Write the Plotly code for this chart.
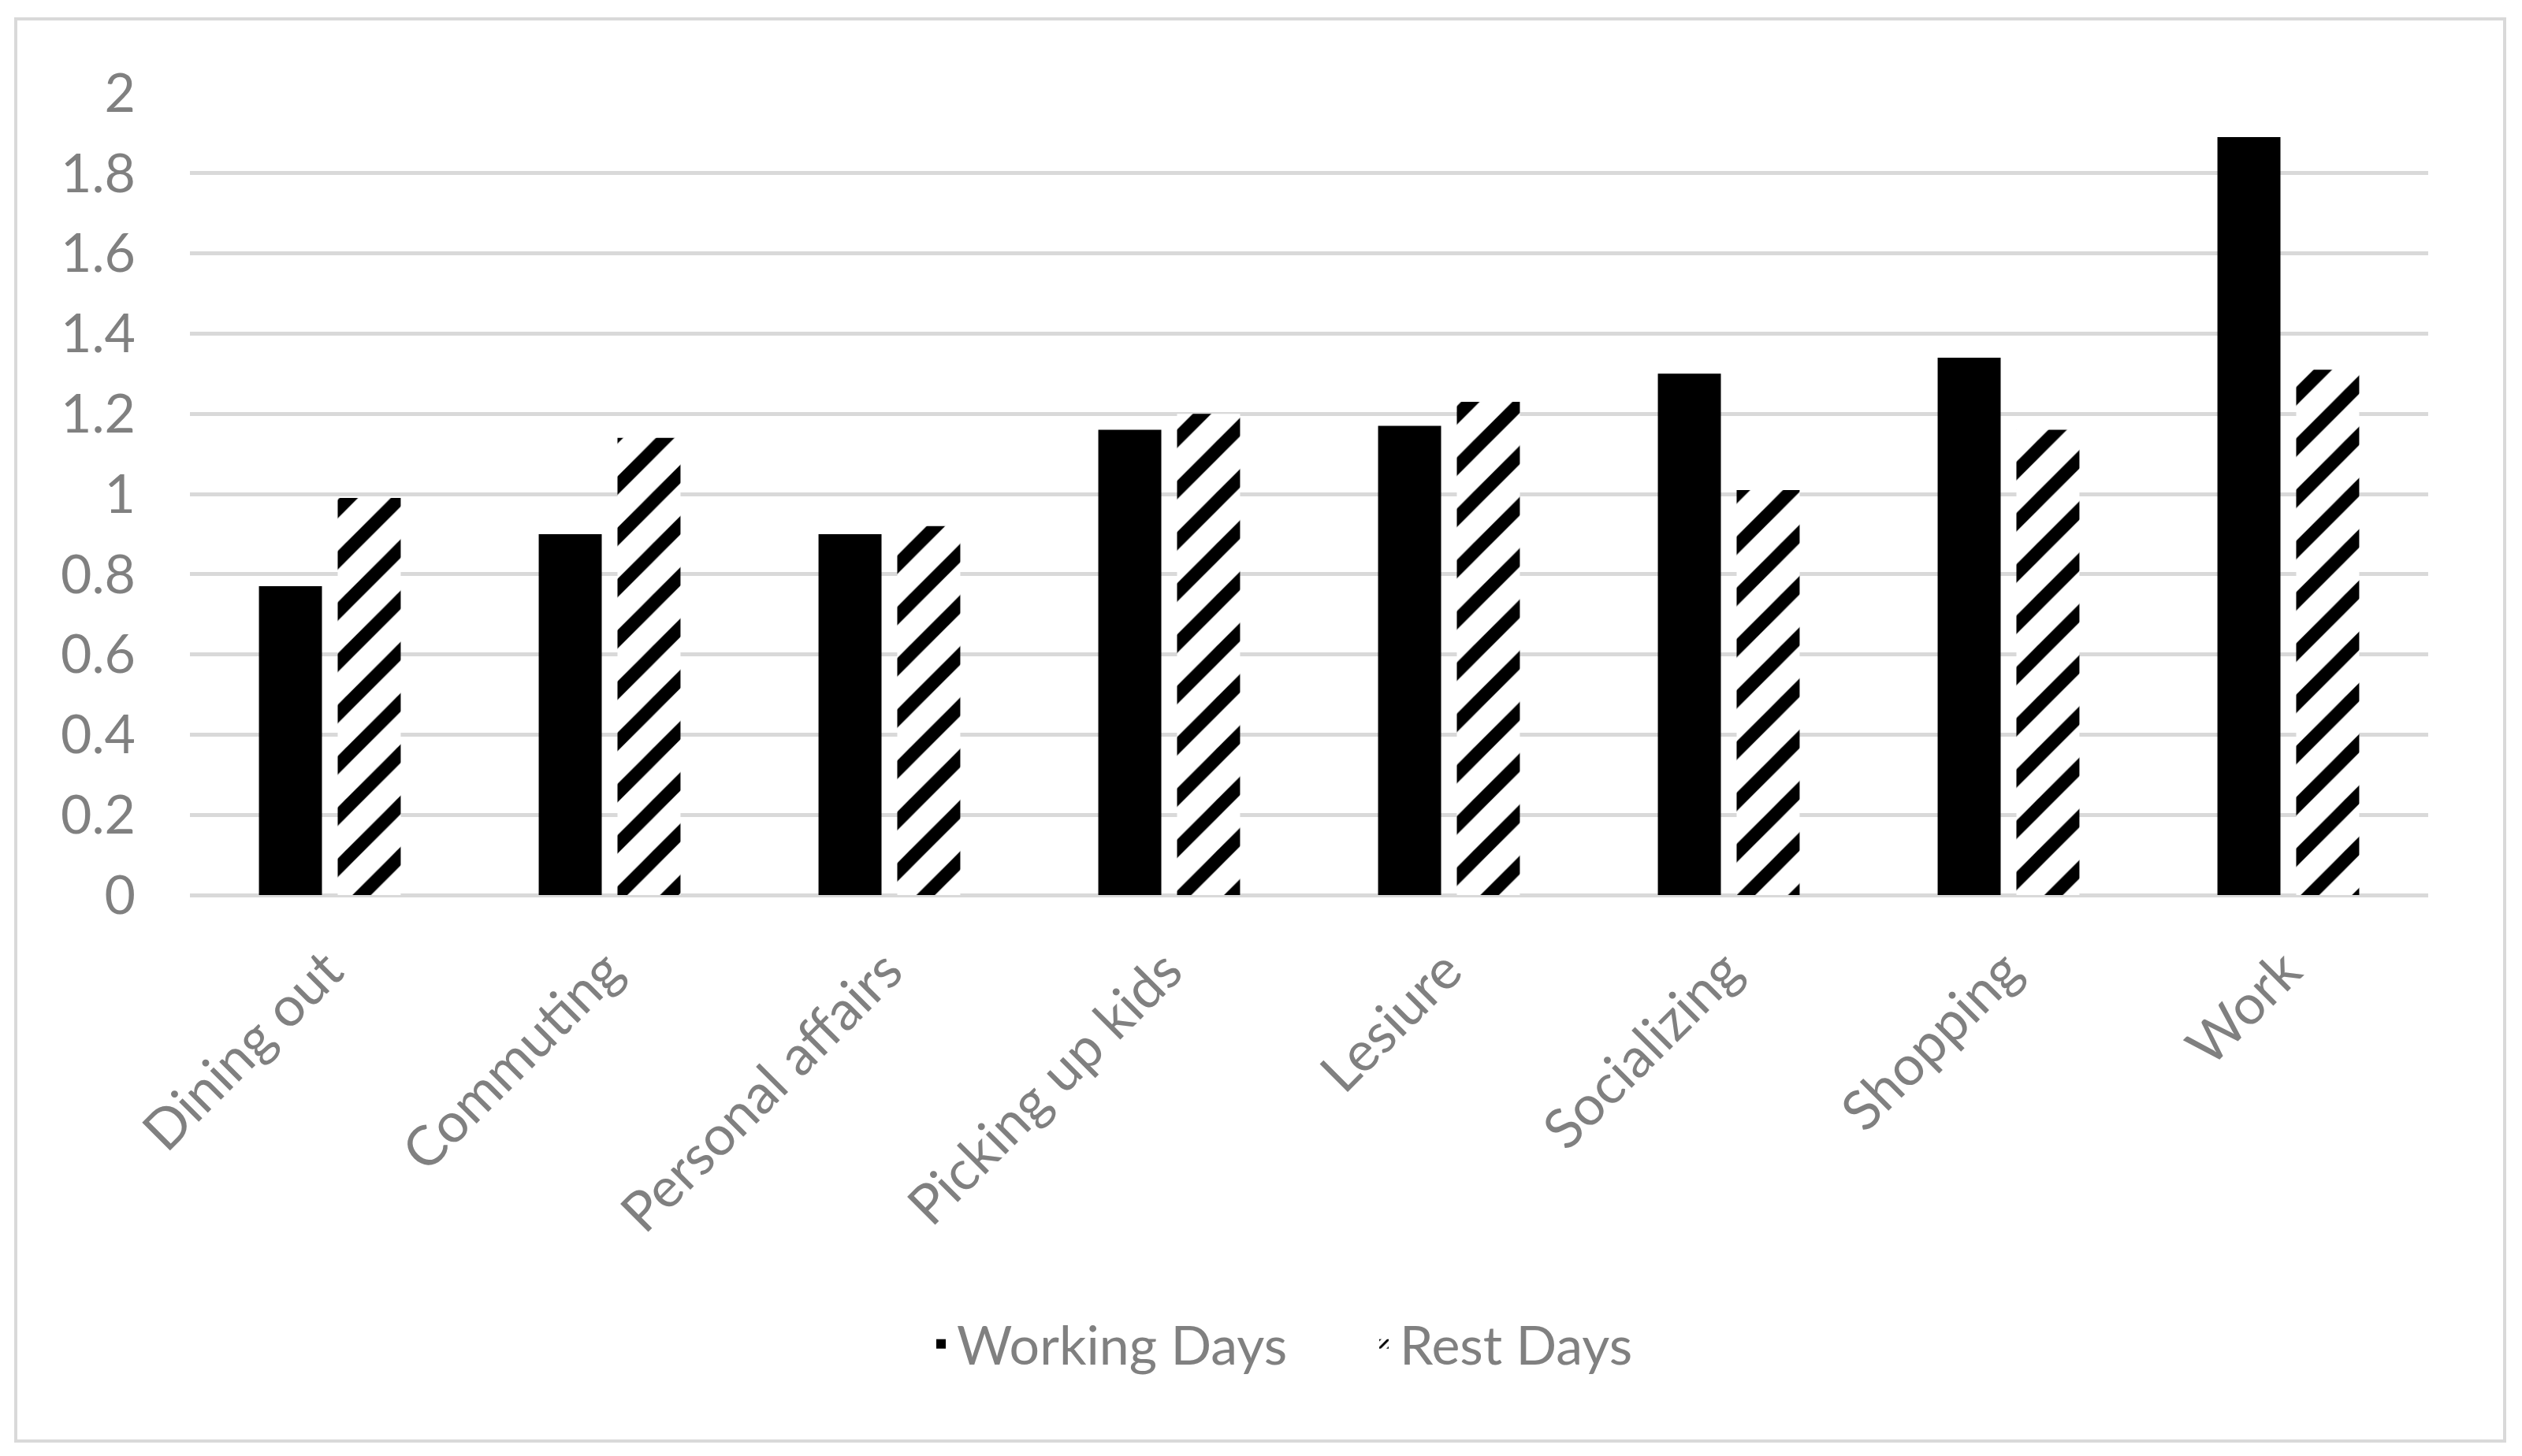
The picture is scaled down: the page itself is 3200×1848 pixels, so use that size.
import plotly.graph_objects as go

categories = ["Dining out", "Commuting", "Personal affairs", "Picking up kids",
              "Lesiure", "Socializing", "Shopping", "Work"]
working_days = [0.77, 0.90, 0.90, 1.16, 1.17, 1.30, 1.34, 1.89]
rest_days = [0.99, 1.14, 0.92, 1.20, 1.23, 1.01, 1.16, 1.31]
y_ticks = [0, 0.2, 0.4, 0.6, 0.8, 1, 1.2, 1.4, 1.6, 1.8, 2]
y_tick_labels = ["0", "0.2", "0.4", "0.6", "0.8", "1", "1.2", "1.4", "1.6", "1.8", "2"]

# page body has an 8px margin; figure sized to fit the 3200x1848 window
OFF = 8
W, H = 3200 - 2 * OFF, 1848 - 2 * OFF
# plot area in screen pixels
PL, PR, PT, PB = 241, 3081, 118, 1136
L, T = PL - OFF, PT - OFF
R, B = (OFF + W) - PR, (OFF + H) - PB
pw, ph = PR - PL, PB - PT

def px_x(x):
    return (x - PL) / pw

def px_y(y):
    return (PB - y) / ph

FONT = "Lato"
FS = 68
GRAY = "#808080"
GRID = "#d9d9d9"

fig = go.Figure()
fig.add_trace(go.Bar(
    name="Working Days", x=categories, y=working_days,
    marker=dict(color="black", line=dict(width=0)),
))
fig.add_trace(go.Bar(
    name="Rest Days", x=categories, y=rest_days,
    marker=dict(color="white", line=dict(width=0),
                pattern=dict(shape="/", fgcolor="black", bgcolor="white",
                             size=46, solidity=0.36, fillmode="replace")),
))

fig.update_layout(
    width=W, height=H,
    margin=dict(l=L, r=R, t=T, b=B, pad=0),
    paper_bgcolor="white", plot_bgcolor="white",
    barmode="group", bargap=0.437, bargroupgap=0.2,
    font=dict(family=FONT, size=FS, color=GRAY),
    showlegend=True,
    legend=dict(orientation="h", x=px_x(1174), xanchor="left",
                y=px_y(1706), yanchor="middle",
                font=dict(family=FONT, size=FS, color=GRAY),
                entrywidth=517, entrywidthmode="pixels",
                traceorder="normal"),
    xaxis=dict(showgrid=False, showline=False, zeroline=False,
               tickangle=-45, ticks="", ticklabelstandoff=40,
               ticklabelshift=-4,
               tickfont=dict(family=FONT, size=70, color=GRAY)),
    yaxis=dict(range=[0, 2], tickvals=y_ticks, ticktext=y_tick_labels,
               showgrid=True, gridcolor=GRID, gridwidth=5,
               zeroline=True, zerolinecolor=GRID, zerolinewidth=5,
               showline=False, ticks="", ticklabelstandoff=68,
               tickfont=dict(family=FONT, size=FS, color=GRAY)),
    shapes=[dict(type="rect", xref="paper", yref="paper",
                 x0=px_x(20), x1=px_x(3178), y0=px_y(1829), y1=px_y(24),
                 line=dict(color=GRID, width=4), fillcolor="rgba(0,0,0,0)",
                 layer="below")],
)

fig.write_html("out.html")
